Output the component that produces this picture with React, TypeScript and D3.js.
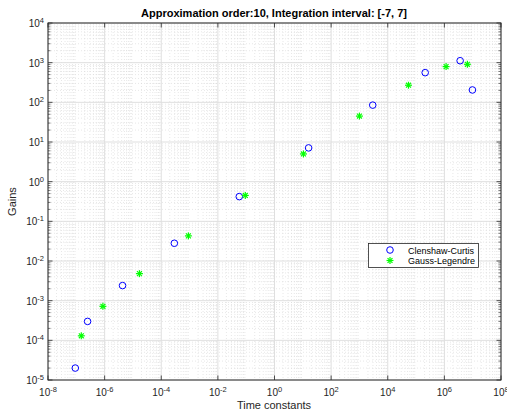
import React from "react";
import * as d3 from "d3";

const ccTime = [9.2e-8, 2.5e-7, 4.3e-6, 2.9e-4, 0.057, 16, 2950, 2.1e5, 3.6e6, 9.8e6];
const ccGain = [2.0e-5, 3.0e-4, 2.4e-3, 0.028, 0.42, 7.1, 85, 560, 1120, 205];
const glTime = [1.5e-7, 8.7e-7, 1.7e-5, 9.1e-4, 0.093, 10.5, 1000, 5.4e4, 1.15e6, 6.5e6];
const glGain = [1.3e-4, 7.2e-4, 4.8e-3, 0.043, 0.45, 5.0, 45, 270, 795, 910];
const xExps = [-8, -6, -4, -2, 0, 2, 4, 6, 8];
const yExps = [-5, -4, -3, -2, -1, 0, 1, 2, 3, 4];
const seriesNames = ["Clenshaw-Curtis", "Gauss-Legendre"];

const W = 507, H = 414;
const L = 48, R = 501, T = 23, B = 380;

export default function App() {
  const x = d3.scaleLog().domain([1e-8, 1e8]).range([L, R]);
  const y = d3.scaleLog().domain([1e-5, 1e4]).range([B, T]);

  const xMinor: number[] = [];
  for (let e = -8; e < 8; e++) for (let m = 2; m <= 9; m++) xMinor.push(m * Math.pow(10, e));
  const yMinor: number[] = [];
  for (let e = -5; e < 4; e++) for (let m = 2; m <= 9; m++) yMinor.push(m * Math.pow(10, e));

  const font = "Helvetica, Arial, 'Liberation Sans', sans-serif";
  const axisColor = "#262626";

  const star = (cx: number, cy: number, key: string) => {
    const r = 3.5;
    const c = "#00ff00";
    return (
      <g key={key} stroke={c} strokeWidth={1.2}>
        <line x1={cx - r} y1={cy} x2={cx + r} y2={cy} />
        <line x1={cx} y1={cy - r} x2={cx} y2={cy + r} />
        <line x1={cx - r * 0.7} y1={cy - r * 0.7} x2={cx + r * 0.7} y2={cy + r * 0.7} />
        <line x1={cx - r * 0.7} y1={cy + r * 0.7} x2={cx + r * 0.7} y2={cy - r * 0.7} />
      </g>
    );
  };

  return (
    <svg width={W} height={H} style={{ position: "absolute", left: 0, top: 0, background: "#fff" }} fontFamily={font}>
      <rect x={0} y={0} width={W} height={H} fill="#fff" />
      {/* minor grid */}
      {xMinor.map((v, i) => (
        <line key={"xm" + i} x1={x(v)} x2={x(v)} y1={T} y2={B} stroke="#d6d6d6" strokeWidth={0.6} strokeDasharray="1,2" />
      ))}
      {yMinor.map((v, i) => (
        <line key={"ym" + i} x1={L} x2={R} y1={y(v)} y2={y(v)} stroke="#d6d6d6" strokeWidth={0.6} strokeDasharray="1,2" />
      ))}
      {/* major grid */}
      {xExps.map((e) => (
        <line key={"xg" + e} x1={x(Math.pow(10, e))} x2={x(Math.pow(10, e))} y1={T} y2={B} stroke="#dfdfdf" strokeWidth={1} />
      ))}
      {yExps.map((e) => (
        <line key={"yg" + e} x1={L} x2={R} y1={y(Math.pow(10, e))} y2={y(Math.pow(10, e))} stroke="#dfdfdf" strokeWidth={1} />
      ))}
      {/* ticks */}
      {xExps.map((e) => {
        const px = x(Math.pow(10, e));
        return (
          <g key={"xt" + e} stroke={axisColor} strokeWidth={0.8}>
            <line x1={px} x2={px} y1={B} y2={B - 4.5} />
            <line x1={px} x2={px} y1={T} y2={T + 4.5} />
          </g>
        );
      })}
      {yExps.map((e) => {
        const py = y(Math.pow(10, e));
        return (
          <g key={"yt" + e} stroke={axisColor} strokeWidth={0.8}>
            <line x1={L} x2={L + 4.5} y1={py} y2={py} />
            <line x1={R} x2={R - 4.5} y1={py} y2={py} />
          </g>
        );
      })}
      {yMinor.map((v, i) => (
        <g key={"ymt" + i} stroke={axisColor} strokeWidth={0.6}>
          <line x1={L} x2={L + 2.5} y1={y(v)} y2={y(v)} />
          <line x1={R} x2={R - 2.5} y1={y(v)} y2={y(v)} />
        </g>
      ))}
      {/* box */}
      <rect x={L} y={T} width={R - L} height={B - T} fill="none" stroke={axisColor} strokeWidth={1} />
      {/* tick labels */}
      {xExps.map((e) => (
        <text key={"xl" + e} x={x(Math.pow(10, e))} y={396} textAnchor="middle" fontSize={10} fill={axisColor}>
          10<tspan dy={-4} fontSize={7.5}>{e}</tspan>
        </text>
      ))}
      {yExps.map((e) => (
        <text key={"yl" + e} x={44} y={y(Math.pow(10, e)) + 4} textAnchor="end" fontSize={10} fill={axisColor}>
          10<tspan dy={-4} fontSize={7.5}>{e}</tspan>
        </text>
      ))}
      {/* labels */}
      <text x={274} y={17} textAnchor="middle" fontSize={11} fontWeight="bold" fill="#000">
        Approximation order:10, Integration interval: [-7, 7]
      </text>
      <text x={274} y={409} textAnchor="middle" fontSize={11} fill={axisColor}>Time constants</text>
      <text transform={`translate(16,${(T + B) / 2}) rotate(-90)`} textAnchor="middle" fontSize={11} fill={axisColor}>Gains</text>
      {/* data */}
      {ccTime.map((t, i) => (
        <circle key={"cc" + i} cx={x(t)} cy={y(ccGain[i])} r={3.3} fill="none" stroke="#0000ff" strokeWidth={1} />
      ))}
      {glTime.map((t, i) => star(x(t), y(glGain[i]), "gl" + i))}
      {/* legend */}
      <rect x={368.5} y={243.5} width={110} height={24} fill="#fff" stroke={axisColor} strokeWidth={0.8} />
      <circle cx={390} cy={250} r={3.3} fill="none" stroke="#0000ff" strokeWidth={1} />
      {star(390, 260.5, "lgs")}
      <text x={408} y={253.5} fontSize={9} fill="#000">{seriesNames[0]}</text>
      <text x={408} y={264} fontSize={9} fill="#000">{seriesNames[1]}</text>
    </svg>
  );
}
